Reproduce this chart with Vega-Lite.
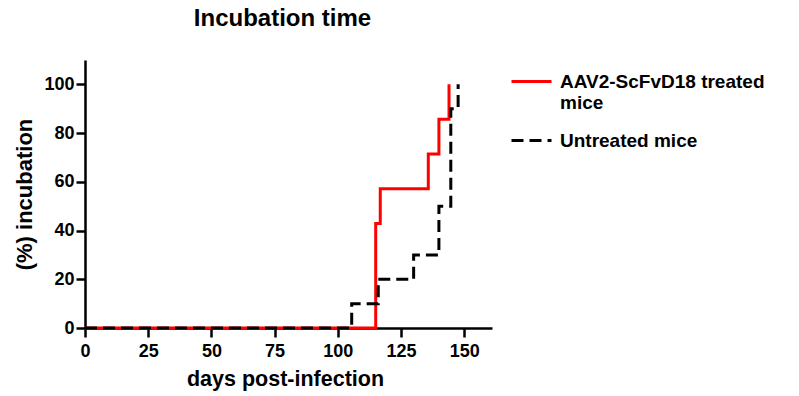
{
  "$schema": "https://vega.github.io/schema/vega-lite/v6.json",
  "autosize": "none",
  "width": 407,
  "height": 268,
  "padding": {"left": 85, "top": 60, "right": 307, "bottom": 68},
  "background": "white",
  "title": {
    "text": "Incubation time",
    "font": "Liberation Sans",
    "fontSize": 24,
    "fontWeight": "bold",
    "color": "black",
    "anchor": "middle",
    "dx": -6,
    "offset": 29
  },
  "config": {
    "view": {"stroke": null},
    "font": "Liberation Sans"
  },
  "data": {
    "values": [
      {"day": 0, "pct": 0, "group": "AAV2-ScFvD18 treated mice"},
      {"day": 115, "pct": 42.86, "group": "AAV2-ScFvD18 treated mice"},
      {"day": 116.8, "pct": 57.14, "group": "AAV2-ScFvD18 treated mice"},
      {"day": 135.8, "pct": 71.43, "group": "AAV2-ScFvD18 treated mice"},
      {"day": 140, "pct": 85.71, "group": "AAV2-ScFvD18 treated mice"},
      {"day": 144, "pct": 100, "group": "AAV2-ScFvD18 treated mice"},
      {"day": 0, "pct": 0, "group": "Untreated mice"},
      {"day": 105.5, "pct": 10, "group": "Untreated mice"},
      {"day": 116, "pct": 20, "group": "Untreated mice"},
      {"day": 130, "pct": 30, "group": "Untreated mice"},
      {"day": 140, "pct": 50, "group": "Untreated mice"},
      {"day": 144.7, "pct": 90, "group": "Untreated mice"},
      {"day": 147.6, "pct": 100, "group": "Untreated mice"}
    ]
  },
  "mark": {"type": "line", "interpolate": "step-after", "strokeWidth": 3, "strokeCap": "butt"},
  "encoding": {
    "x": {
      "field": "day",
      "type": "quantitative",
      "scale": {"domain": [0, 161], "nice": false, "zero": false},
      "axis": {
        "values": [0, 25, 50, 75, 100, 125, 150],
        "title": "days post-infection",
        "titleFontSize": 21.5,
        "titleFontWeight": "bold",
        "titleColor": "black",
        "titleX": 200,
        "titlePadding": 8,
        "labelFontSize": 18,
        "labelFontWeight": "bold",
        "labelColor": "black",
        "labelPadding": 5,
        "domainColor": "black",
        "domainWidth": 2.5,
        "tickColor": "black",
        "tickWidth": 2.5,
        "tickSize": 9,
        "grid": false,
        "labelFlush": false
      }
    },
    "y": {
      "field": "pct",
      "type": "quantitative",
      "scale": {"domain": [0, 110], "nice": false},
      "axis": {
        "values": [0, 20, 40, 60, 80, 100],
        "title": "(%) incubation",
        "titleFontSize": 22,
        "titleFontWeight": "bold",
        "titleColor": "black",
        "titlePadding": 7,
        "labelFontSize": 18,
        "labelFontWeight": "bold",
        "labelColor": "black",
        "labelPadding": 2,
        "domainColor": "black",
        "domainWidth": 2.5,
        "tickColor": "black",
        "tickWidth": 2.5,
        "tickSize": 9,
        "grid": false,
        "labelFlush": false
      }
    },
    "color": {
      "field": "group",
      "type": "nominal",
      "scale": {"domain": ["AAV2-ScFvD18 treated mice", "Untreated mice"], "range": ["#ff0000", "#000000"]},
      "legend": {
        "title": null,
        "orient": "right",
        "offset": 18,
        "symbolType": "stroke",
        "symbolSize": 1600,
        "symbolStrokeWidth": 3,
        "labelFontSize": 19,
        "labelFontWeight": "bold",
        "labelColor": "black",
        "labelLimit": 300,
        "labelOffset": 7,
        "rowPadding": 6,
        "labelExpr": "datum.label == 'AAV2-ScFvD18 treated mice' ? ['AAV2-ScFvD18 treated', 'mice'] : datum.label"
      }
    },
    "strokeDash": {
      "field": "group",
      "type": "nominal",
      "scale": {"domain": ["AAV2-ScFvD18 treated mice", "Untreated mice"], "range": [[1, 0], [12, 6]]},
      "legend": null
    }
  }
}
